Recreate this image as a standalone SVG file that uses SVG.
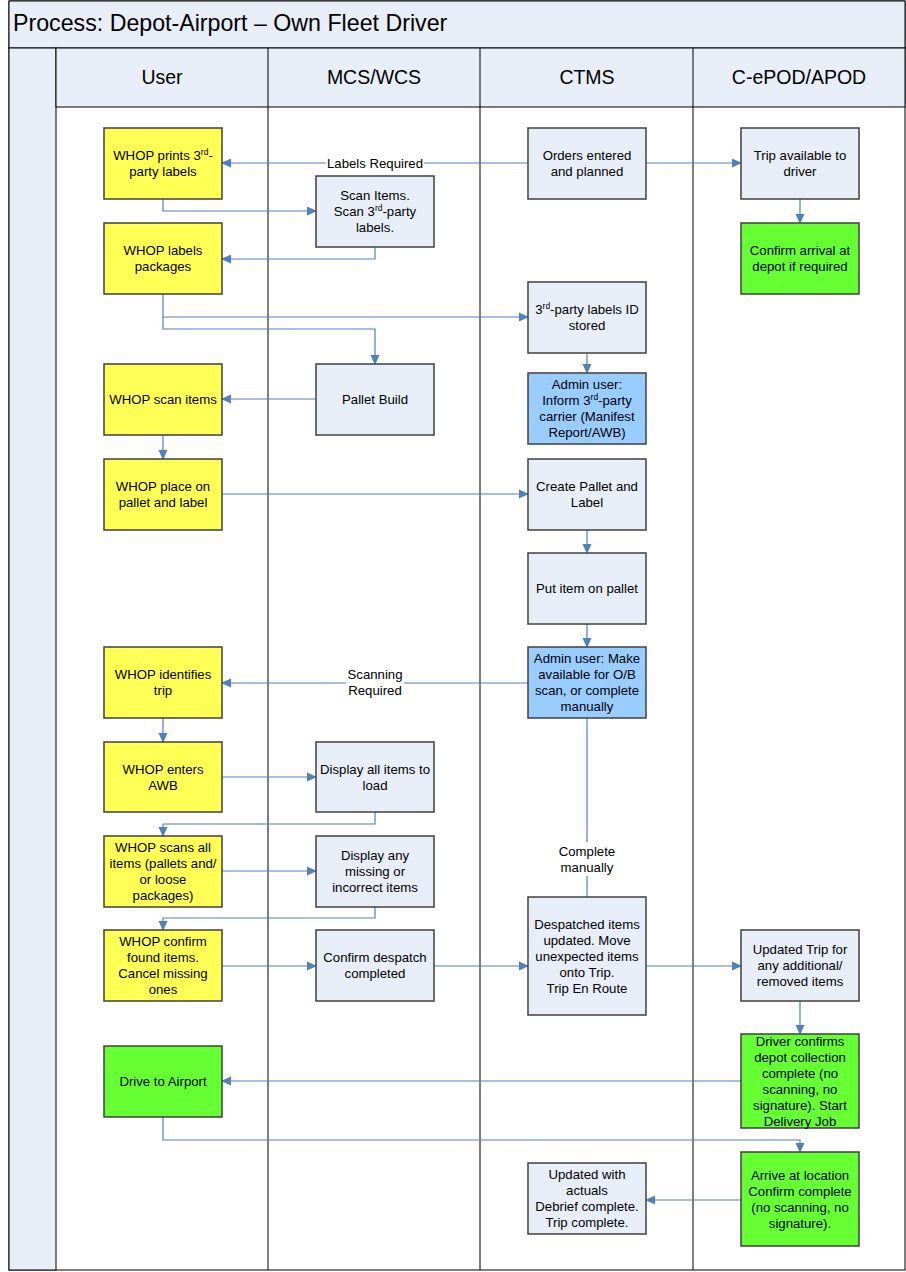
<svg xmlns="http://www.w3.org/2000/svg" width="906" height="1272" viewBox="0 0 906 1272">
<style>
.frame{fill:#E8EEF7;stroke:#000;stroke-width:1}
.lane{fill:none;stroke:#000;stroke-width:1}
.n rect{stroke:#404040;stroke-width:1.5}
.y{fill:#FFFF55}.g{fill:#66FF33}.l{fill:#E8EEF7}.b{fill:#99CCFF}
text{font-family:"Liberation Sans",Arial,sans-serif;font-size:13.2px;fill:#000;text-anchor:middle}
.c path{fill:none;stroke:#4F81BD;stroke-width:1.2}
.lbl{fill:#fff}
.h{font-size:19.5px}
</style>
<defs>
<marker id="a" markerWidth="10" markerHeight="10" refX="9" refY="5" orient="auto" markerUnits="userSpaceOnUse">
<path d="M0,0.5 L10,5 L0,9.5 Z" fill="#4F81BD"/>
</marker>
</defs>
<rect width="906" height="1272" fill="#fff"/>
<g id="pool">
<rect x="9" y="1" width="896" height="1269" fill="#fff" stroke="#000"/>
<rect class="frame" x="9" y="1" width="896" height="47"/>
<rect class="frame" x="9" y="48" width="47" height="1222"/>
<rect class="frame" x="56" y="48" width="849" height="59"/>
<text x="13" y="31" style="text-anchor:start;font-size:23.2px">Process: Depot-Airport – Own Fleet Driver</text>
<line class="lane" x1="268" y1="48" x2="268" y2="1270"/>
<line class="lane" x1="480" y1="48" x2="480" y2="1270"/>
<line class="lane" x1="693" y1="48" x2="693" y2="1270"/>
<text class="h" x="162" y="84">User</text>
<text class="h" x="374" y="84">MCS/WCS</text>
<text class="h" x="587" y="84">CTMS</text>
<text class="h" x="799" y="84">C-ePOD/APOD</text>
</g>
<g class="c" id="connectors">
<path d="M528,163 H222" marker-end="url(#a)"/>
<path d="M646,163 H741" marker-end="url(#a)"/>
<path d="M800,199 V223" marker-end="url(#a)"/>
<path d="M163,199 V211 H316" marker-end="url(#a)"/>
<path d="M375,247 V259 H222" marker-end="url(#a)"/>
<path d="M163,294 V317 H528" marker-end="url(#a)"/>
<path d="M163,317 V329 H375 V364" marker-end="url(#a)"/>
<path d="M587,353 V373" marker-end="url(#a)"/>
<path d="M316,399 H222" marker-end="url(#a)"/>
<path d="M163,435 V459" marker-end="url(#a)"/>
<path d="M222,494 H528" marker-end="url(#a)"/>
<path d="M587,530 V553" marker-end="url(#a)"/>
<path d="M587,624 V647" marker-end="url(#a)"/>
<path d="M528,683 H222" marker-end="url(#a)"/>
<path d="M587,718 V897"/>
<path d="M163,718 V742" marker-end="url(#a)"/>
<path d="M222,777 H316" marker-end="url(#a)"/>
<path d="M375,812 V824 H163 V836" marker-end="url(#a)"/>
<path d="M222,871 H316" marker-end="url(#a)"/>
<path d="M375,907 V918 H163 V930" marker-end="url(#a)"/>
<path d="M222,966 H316" marker-end="url(#a)"/>
<path d="M434,966 H528" marker-end="url(#a)"/>
<path d="M646,966 H741" marker-end="url(#a)"/>
<path d="M800,1001 V1034" marker-end="url(#a)"/>
<path d="M741,1081 H222" marker-end="url(#a)"/>
<path d="M163,1117 V1140 H800 V1152" marker-end="url(#a)"/>
<path d="M741,1200 H646" marker-end="url(#a)"/>
<rect class="lbl" x="326" y="155" width="98" height="16"/>
<text x="375" y="168">Labels Required</text>
<rect class="lbl" x="346" y="667" width="58" height="32"/>
<text x="375" y="679">Scanning</text>
<text x="375" y="695">Required</text>
<rect class="lbl" x="554" y="842" width="66" height="34"/>
<text x="587" y="856">Complete</text>
<text x="587" y="872">manually</text>
</g>
<g class="n" id="n1"><rect class="y" x="104" y="128" width="118" height="71"/><text x="163" y="160">WHOP prints 3<tspan dy="-5" style="font-size:8.5px">rd</tspan><tspan dy="5">-</tspan></text><text x="163" y="176">party labels</text></g>
<g class="n" id="n2"><rect class="y" x="104" y="223" width="118" height="71"/><text x="163" y="255">WHOP labels</text><text x="163" y="271">packages</text></g>
<g class="n" id="n3"><rect class="y" x="104" y="364" width="118" height="71"/><text x="163" y="404">WHOP scan items</text></g>
<g class="n" id="n4"><rect class="y" x="104" y="459" width="118" height="71"/><text x="163" y="491">WHOP place on</text><text x="163" y="507">pallet and label</text></g>
<g class="n" id="n5"><rect class="y" x="104" y="647" width="118" height="71"/><text x="163" y="679">WHOP identifies</text><text x="163" y="695">trip</text></g>
<g class="n" id="n6"><rect class="y" x="104" y="742" width="118" height="70"/><text x="163" y="774">WHOP enters</text><text x="163" y="790">AWB</text></g>
<g class="n" id="n7"><rect class="y" x="104" y="836" width="118" height="71"/><text x="163" y="852">WHOP scans all</text><text x="163" y="868">items (pallets and/</text><text x="163" y="884">or loose</text><text x="163" y="900">packages)</text></g>
<g class="n" id="n8"><rect class="y" x="104" y="930" width="118" height="71"/><text x="163" y="946">WHOP confirm</text><text x="163" y="962">found items.</text><text x="163" y="978">Cancel missing</text><text x="163" y="994">ones</text></g>
<g class="n" id="n9"><rect class="g" x="104" y="1046" width="118" height="71"/><text x="163" y="1086">Drive to Airport</text></g>
<g class="n" id="m1"><rect class="l" x="316" y="176" width="118" height="71"/><text x="375" y="200">Scan Items.</text><text x="375" y="216">Scan 3<tspan dy="-5" style="font-size:8.5px">rd</tspan><tspan dy="5">-party</tspan></text><text x="375" y="232">labels.</text></g>
<g class="n" id="m2"><rect class="l" x="316" y="364" width="118" height="71"/><text x="375" y="404">Pallet Build</text></g>
<g class="n" id="m3"><rect class="l" x="316" y="742" width="118" height="70"/><text x="375" y="774">Display all items to</text><text x="375" y="790">load</text></g>
<g class="n" id="m4"><rect class="l" x="316" y="836" width="118" height="71"/><text x="375" y="860">Display any</text><text x="375" y="876">missing or</text><text x="375" y="892">incorrect items</text></g>
<g class="n" id="m5"><rect class="l" x="316" y="930" width="118" height="71"/><text x="375" y="962">Confirm despatch</text><text x="375" y="978">completed</text></g>
<g class="n" id="c1"><rect class="l" x="528" y="128" width="118" height="71"/><text x="587" y="160">Orders entered</text><text x="587" y="176">and planned</text></g>
<g class="n" id="c2"><rect class="l" x="528" y="282" width="118" height="71"/><text x="587" y="314">3<tspan dy="-5" style="font-size:8.5px">rd</tspan><tspan dy="5">-party labels ID</tspan></text><text x="587" y="330">stored</text></g>
<g class="n" id="c3"><rect class="b" x="528" y="373" width="118" height="71"/><text x="587" y="389">Admin user:</text><text x="587" y="405">Inform 3<tspan dy="-5" style="font-size:8.5px">rd</tspan><tspan dy="5">-party</tspan></text><text x="587" y="421">carrier (Manifest</text><text x="587" y="437">Report/AWB)</text></g>
<g class="n" id="c4"><rect class="l" x="528" y="459" width="118" height="71"/><text x="587" y="491">Create Pallet and</text><text x="587" y="507">Label</text></g>
<g class="n" id="c5"><rect class="l" x="528" y="553" width="118" height="71"/><text x="587" y="593">Put item on pallet</text></g>
<g class="n" id="c6"><rect class="b" x="528" y="647" width="118" height="71"/><text x="587" y="663">Admin user: Make</text><text x="587" y="679">available for O/B</text><text x="587" y="695">scan, or complete</text><text x="587" y="711">manually</text></g>
<g class="n" id="c7"><rect class="l" x="528" y="897" width="118" height="118"/><text x="587" y="929">Despatched items</text><text x="587" y="945">updated. Move</text><text x="587" y="961">unexpected items</text><text x="587" y="977">onto Trip.</text><text x="587" y="993">Trip En Route</text></g>
<g class="n" id="c8"><rect class="l" x="528" y="1163" width="118" height="71"/><text x="587" y="1179">Updated with</text><text x="587" y="1195">actuals</text><text x="587" y="1211">Debrief complete.</text><text x="587" y="1227">Trip complete.</text></g>
<g class="n" id="p1"><rect class="l" x="741" y="128" width="118" height="71"/><text x="800" y="160">Trip available to</text><text x="800" y="176">driver</text></g>
<g class="n" id="p2"><rect class="g" x="741" y="223" width="118" height="71"/><text x="800" y="255">Confirm arrival at</text><text x="800" y="271">depot if required</text></g>
<g class="n" id="p3"><rect class="l" x="741" y="930" width="118" height="71"/><text x="800" y="954">Updated Trip for</text><text x="800" y="970">any additional/</text><text x="800" y="986">removed items</text></g>
<g class="n" id="p4"><rect class="g" x="741" y="1034" width="118" height="94"/><text x="800" y="1046">Driver confirms</text><text x="800" y="1062">depot collection</text><text x="800" y="1078">complete (no</text><text x="800" y="1094">scanning, no</text><text x="800" y="1110">signature). Start</text><text x="800" y="1126">Delivery Job</text></g>
<g class="n" id="p5"><rect class="g" x="741" y="1152" width="118" height="94"/><text x="800" y="1180">Arrive at location</text><text x="800" y="1196">Confirm complete</text><text x="800" y="1212">(no scanning, no</text><text x="800" y="1228">signature).</text></g>
</svg>
